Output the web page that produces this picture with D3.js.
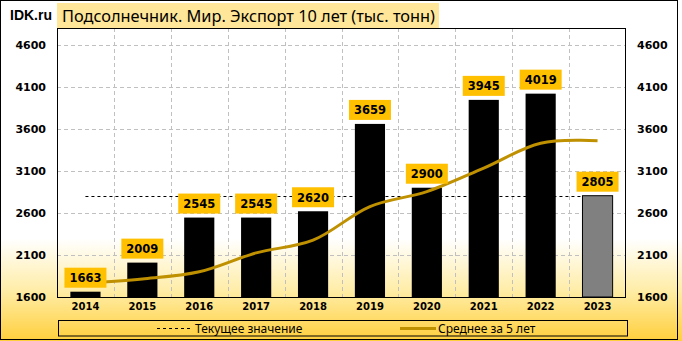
<!DOCTYPE html>
<html><head><meta charset="utf-8">
<script src="https://cdn.jsdelivr.net/npm/d3@7/dist/d3.min.js"></script>
<style>body{margin:0;background:#fff}svg{display:block}</style>
</head><body>
<svg id="c" width="682" height="341"></svg>
<script>
const years = ["2014","2015","2016","2017","2018","2019","2020","2021","2022","2023"];
const exportValues = [1663, 2009, 2545, 2545, 2620, 3659, 2900, 3945, 4019, 2805];
const avg5 = [1765, 1815, 1900, 2125, 2276, 2676, 2854, 3134, 3429, 3460];
const currentValue = 2805;
const yTicks = [1600, 2100, 2600, 3100, 3600, 4100, 4600];
const titleText = "Подсолнечник. Мир. Экспорт 10 лет (тыс. тонн)";
const legendLabels = ["Текущее значение", "Среднее за 5 лет"];

const svg = d3.select("#c");
const W = 682, H = 341;
const m = {l: 57, r: 626, t: 28, b: 297};

const defs = svg.append("defs");
const g = defs.append("linearGradient").attr("id","bg").attr("x1",0).attr("y1",0).attr("x2",0).attr("y2",1);
g.append("stop").attr("offset","0.70").attr("stop-color","#ffffff");
g.append("stop").attr("offset","0.85").attr("stop-color","#FFEDA8");
g.append("stop").attr("offset","1").attr("stop-color","#FFCF3C");
svg.append("rect").attr("x",0).attr("y",0).attr("width",W).attr("height",H).attr("fill","url(#bg)");
svg.append("rect").attr("x",0.5).attr("y",0.5).attr("width",677).attr("height",339).attr("fill","none").attr("stroke","#000");

const x = d3.scaleBand().domain(years).range([m.l, m.r]).paddingInner(0.47).paddingOuter(0.235);
const xs = d3.scaleBand().domain(years).range([m.l, m.r]);
const y = d3.scaleLinear().domain([1600, 4800]).range([m.b, m.t]);

// grid
svg.append("g").selectAll("line").data(yTicks).join("line")
  .attr("x1", m.l).attr("x2", m.r).attr("y1", d=>Math.round(y(d))+0.5).attr("y2", d=>Math.round(y(d))+0.5)
  .attr("stroke","#c0c0c0").attr("stroke-dasharray","4,3");
svg.append("g").selectAll("line").data(years.slice(1)).join("line")
  .attr("x1", d=>Math.round(xs(d))+0.5).attr("x2", d=>Math.round(xs(d))+0.5).attr("y1", m.t).attr("y2", m.b)
  .attr("stroke","#c0c0c0").attr("stroke-dasharray","4,3");

// current value dashed line
const cx = d => xs(d) + xs.bandwidth()/2;
svg.append("line").attr("x1", cx(years[0])).attr("x2", cx(years[years.length-1]))
  .attr("y1", Math.round(y(currentValue))+0.5).attr("y2", Math.round(y(currentValue))+0.5)
  .attr("stroke","#000").attr("stroke-dasharray","3,3");

// bars
svg.append("g").selectAll("rect").data(years).join("rect")
  .attr("x", d=>x(d)).attr("width", x.bandwidth())
  .attr("y", (d,i)=>y(exportValues[i])).attr("height", (d,i)=>m.b - y(exportValues[i]))
  .attr("fill", (d,i)=> i===years.length-1 ? "#808080" : "#000")
  .attr("stroke", "#000").attr("stroke-width", (d,i)=> i===years.length-1 ? 1 : 0);

// avg line
svg.append("path").datum(avg5)
  .attr("d", d3.line().x((d,i)=>cx(years[i])).y(d=>y(d)).curve(d3.curveCatmullRom.alpha(0.5)))
  .attr("fill","none").attr("stroke","#BF9000").attr("stroke-width",3);

// plot border
svg.append("rect").attr("x", m.l+0.5).attr("y", m.t+0.5).attr("width", m.r-m.l-1).attr("height", m.b-m.t)
  .attr("fill","none").attr("stroke","#000");

// value labels
const lab = svg.append("g").selectAll("g").data(years).join("g")
  .attr("transform", (d,i)=>`translate(${cx(d)},${y(exportValues[i]) - 4})`);
lab.append("rect").attr("x",-21).attr("y",-20).attr("width",42).attr("height",20).attr("fill","#FFC000");
lab.append("text").attr("y",-5.5).attr("text-anchor","middle")
  .attr("font-family","DejaVu Sans").attr("font-weight","bold").attr("font-size","11.5px")
  .text((d,i)=>exportValues[i]);

// y axes
const yl = d3.axisLeft(y).tickValues(yTicks).tickFormat(d3.format("d")).tickSize(0).tickPadding(11);
const ya = svg.append("g").attr("transform",`translate(${m.l},0)`).call(yl);
const yr = d3.axisRight(y).tickValues(yTicks).tickFormat(d3.format("d")).tickSize(0).tickPadding(11);
const yb = svg.append("g").attr("transform",`translate(${m.r},0)`).call(yr);
[ya, yb].forEach(a=>{
  a.select(".domain").remove();
  a.selectAll("text").attr("font-family","DejaVu Sans").attr("font-weight","bold").attr("font-size","11px").attr("fill","#000");
});

// x axis
const xa = svg.append("g").attr("transform",`translate(0,${m.b})`).call(d3.axisBottom(xs).tickSize(0).tickPadding(6));
xa.select(".domain").remove();
xa.selectAll("text").attr("font-family","DejaVu Sans").attr("font-weight","bold").attr("font-size","10px").attr("fill","#000");

// title
svg.append("text").attr("x",10).attr("y",20).attr("font-family","Liberation Sans").attr("font-weight","bold")
  .attr("font-size","14px").text("IDK.ru");
svg.append("rect").attr("x",57).attr("y",3).attr("width",382).attr("height",25).attr("fill","#FFE699");
svg.append("text").attr("x",62).attr("y",21.5).attr("font-family","Noto Sans").attr("font-size","15.5px")
  .attr("textLength",373).attr("lengthAdjust","spacingAndGlyphs").text(titleText);

// legend
svg.append("rect").attr("x",58.5).attr("y",320.5).attr("width",569).attr("height",15.5).attr("fill","none").attr("stroke","#000");
svg.append("line").attr("x1",157).attr("x2",190).attr("y1",328.5).attr("y2",328.5).attr("stroke","#000").attr("stroke-dasharray","3,3");
svg.append("text").attr("x",195).attr("y",332.5).attr("font-family","Noto Sans").attr("font-size","12px").text(legendLabels[0]);
svg.append("line").attr("x1",400).attr("x2",436).attr("y1",328.5).attr("y2",328.5).attr("stroke","#BF9000").attr("stroke-width",3);
svg.append("text").attr("x",438).attr("y",332.5).attr("font-family","Noto Sans").attr("font-size","12px").text(legendLabels[1]);
</script>
</body></html>
